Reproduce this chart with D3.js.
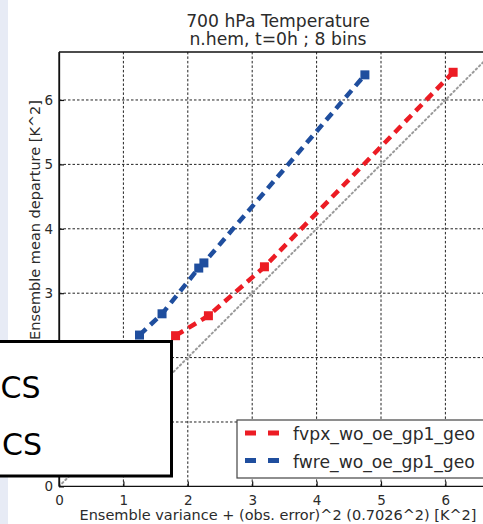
<!DOCTYPE html>
<html><head><meta charset="utf-8">
<script src="https://cdn.jsdelivr.net/npm/d3@7"></script>
<style>
html,body{margin:0;padding:0;background:#fff;overflow:hidden}
svg{display:block}
text{font-family:"DejaVu Sans",sans-serif;fill:#2b2b2b}
</style></head>
<body>
<script>
// ---- data ----
const titleLines = ["700 hPa Temperature", "n.hem, t=0h ; 8 bins"];
const xLabel = "Ensemble variance + (obs. error)^2 (0.7026^2) [K^2]";
const yLabel = "Ensemble mean departure [K^2]";
const xTicks = [0, 1, 2, 3, 4, 5, 6];
const yTicks = [0, 1, 2, 3, 4, 5, 6];
const seriesNames = ["fvpx_wo_oe_gp1_geo", "fwre_wo_oe_gp1_geo"];
const seriesColors = ["#ec1c24", "#1f4e9e"];
const redX = [1.81, 2.32, 3.19, 6.12];
const redY = [2.34, 2.65, 3.41, 6.43];
const blueX = [1.25, 1.60, 2.17, 2.25, 4.75];
const blueY = [2.35, 2.68, 3.39, 3.47, 6.39];
const diagonal = [0, 7];
const overlayWords = ["CS", "CS"];

// ---- layout ----
const W = 483, H = 524;
const svg = d3.select("body").append("svg").attr("width", W).attr("height", H);
const x = d3.scaleLinear().domain([0, 7]).range([59, 59 + 7 * 64.4]);
const y = d3.scaleLinear().domain([0, 6.745]).range([486.4, 52]);

svg.append("rect").attr("x", 0).attr("y", 0).attr("width", 8).attr("height", H).attr("fill", "#e7ebf5");

svg.append("clipPath").attr("id", "plot").append("rect")
  .attr("x", x(0)).attr("y", y(6.745)).attr("width", x(7) - x(0)).attr("height", y(0) - y(6.745));

// grid
const grid = svg.append("g").attr("stroke", "#222").attr("stroke-width", 1).attr("stroke-dasharray", "2.5,2");
grid.selectAll(".gx").data(xTicks.filter(d => d > 0)).join("line")
  .attr("x1", d => x(d)).attr("x2", d => x(d)).attr("y1", y(0)).attr("y2", y(6.745));
grid.selectAll(".gy").data(yTicks.filter(d => d > 0)).join("line")
  .attr("y1", d => y(d)).attr("y2", d => y(d)).attr("x1", x(0)).attr("x2", x(7));

const plot = svg.append("g").attr("clip-path", "url(#plot)");
// diagonal y = x
plot.append("line").attr("x1", x(diagonal[0])).attr("y1", y(diagonal[0])).attr("x2", x(diagonal[1])).attr("y2", y(diagonal[1]))
  .attr("stroke", "#9a9a9a").attr("stroke-width", 2).attr("stroke-dasharray", "1.5,3").attr("stroke-linecap", "round");

const series = [
  {xs: redX, ys: redY, color: seriesColors[0]},
  {xs: blueX, ys: blueY, color: seriesColors[1]}
];
const line = d3.line().x(d => x(d[0])).y(d => y(d[1]));
series.forEach(s => {
  const pts = s.xs.map((v, i) => [v, s.ys[i]]);
  plot.append("path").attr("d", line(pts)).attr("fill", "none").attr("stroke", s.color)
    .attr("stroke-width", 4.5).attr("stroke-dasharray", "9,6");
  plot.selectAll(null).data(pts).join("rect")
    .attr("x", d => x(d[0]) - 4.5).attr("y", d => y(d[1]) - 4.5).attr("width", 9).attr("height", 9)
    .attr("fill", s.color);
});

// axes frame
svg.append("line").attr("x1", x(0)).attr("x2", W).attr("y1", y(6.745)).attr("y2", y(6.745)).attr("stroke", "#111").attr("stroke-width", 1.3);
svg.append("line").attr("x1", x(0)).attr("x2", x(0)).attr("y1", y(6.745)).attr("y2", y(0)).attr("stroke", "#111").attr("stroke-width", 1.3);

// legend
const lg = svg.append("g");
lg.append("rect").attr("x", 237).attr("y", 420).attr("width", 260).attr("height", 58)
  .attr("fill", "#fff").attr("stroke", "#444").attr("stroke-width", 1.2);
seriesNames.forEach((n, i) => {
  const cy = 433 + i * 27.5;
  lg.append("line").attr("x1", 245).attr("x2", 279).attr("y1", cy).attr("y2", cy)
    .attr("stroke", seriesColors[i]).attr("stroke-width", 5).attr("stroke-dasharray", "11,12");
  lg.append("text").attr("x", 293).attr("y", cy + 7).attr("font-size", 17.2).text(n);
});

// axes with inside ticks
const xAxis = svg.append("g").attr("transform", `translate(0,${y(0)})`)
  .call(d3.axisBottom(x).tickValues(xTicks).tickSizeInner(-5).tickSizeOuter(0).tickPadding(9).tickFormat(d3.format("d")));
const yAxis = svg.append("g").attr("transform", `translate(${x(0)},0)`)
  .call(d3.axisLeft(y).tickValues(yTicks).tickSizeInner(-5).tickSizeOuter(0).tickPadding(6).tickFormat(d3.format("d")));
[xAxis, yAxis].forEach(a => {
  a.select(".domain").attr("stroke", "#111").attr("stroke-width", 1.3);
  a.selectAll(".tick line").attr("stroke", "#111").attr("stroke-width", 1.2);
  a.selectAll("text").attr("font-size", 13.5).attr("font-family", "DejaVu Sans").attr("fill", "#2b2b2b");
});
xAxis.select(".domain").attr("d", `M${x(0)},0H${W}`);

// titles
titleLines.forEach((t, i) => {
  svg.append("text").attr("x", 278).attr("y", 26.5 + i * 18.5).attr("text-anchor", "middle")
    .attr("font-size", 17.2).text(t);
});
svg.append("text").attr("x", 278).attr("y", 520).attr("text-anchor", "middle").attr("font-size", 14.5).text(xLabel);
svg.append("text").attr("transform", "translate(40,100) rotate(-90)").attr("text-anchor", "end")
  .attr("font-size", 14.5).text(yLabel);

// overlay box from the slide
svg.append("rect").attr("x", -10).attr("y", 341.5).attr("width", 181.5).attr("height", 134.5)
  .attr("fill", "#fff").attr("stroke", "#000").attr("stroke-width", 3);
overlayWords.forEach((w, i) => {
  svg.append("text").attr("x", i === 0 ? 0.5 : 2).attr("y", i === 0 ? 398 : 455)
    .attr("font-family", "Open Sans").attr("font-size", 30).style("fill", "#000").text(w);
});
</script>
</body></html>
